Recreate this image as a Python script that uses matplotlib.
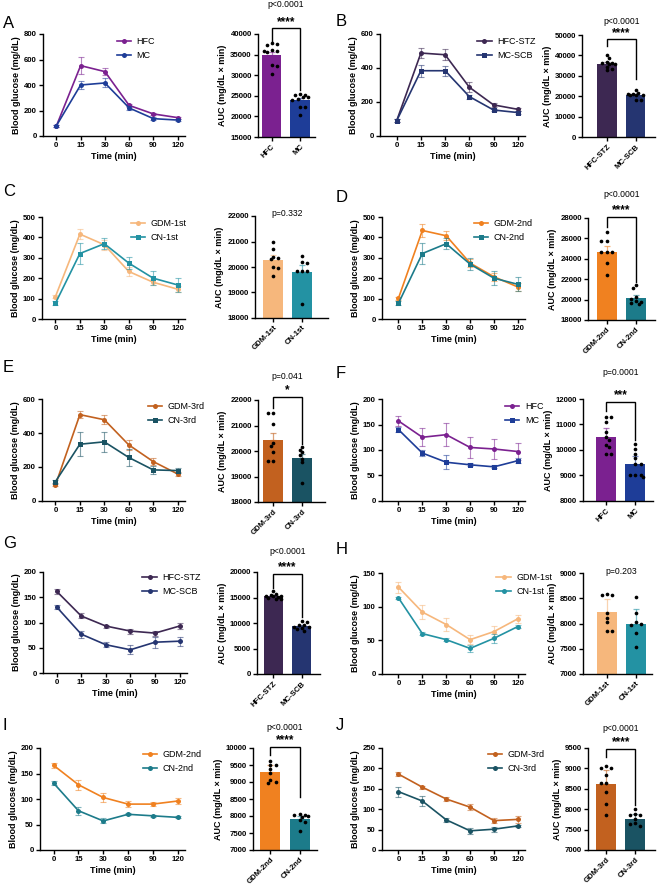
import numpy as np
import matplotlib
matplotlib.use('Agg')
from matplotlib import pyplot as plt
from matplotlib.colors import to_rgba

plt.rcParams['font.family'] = ['Liberation Sans', 'DejaVu Sans']
plt.rcParams['axes.labelweight'] = 'bold'

W, H = 657, 885
times = ['0', '15', '30', '60', '90', '120']

colors = {'HFC': '#7b2190', 'MC': '#1e3d98',
          'HFC-STZ': '#3d2852', 'MC-SCB': '#253571',
          'GDM-1st': '#f6b77c', 'CN-1st': '#2392a3',
          'GDM-2nd': '#f08120', 'CN-2nd': '#1c7b8a',
          'GDM-3rd': '#c2611f', 'CN-3rd': '#1a5363'}

# ---- A ----
A_groups = ['HFC', 'MC']
A_curve = [[78, 552, 505, 240, 173, 144], [80, 400, 416, 220, 136, 125]]
A_curve_err = [[8, 65, 30, 12, 10, 8], [6, 35, 35, 15, 10, 8]]
A_auc = [34900, 23900]
A_auc_err = [700, 550]
A_pts = [[37700, 37500, 37300, 36000, 35800, 35600, 35900, 32500, 32300, 30200],
         [25400, 25300, 25200, 24700, 24600, 24300, 24000, 22400, 22200, 20400]]
# ---- B ----
B_groups = ['HFC-STZ', 'MC-SCB']
B_curve = [[90, 488, 478, 287, 183, 157], [90, 384, 384, 232, 153, 138]]
B_curve_err = [[8, 32, 32, 30, 10, 10], [8, 35, 30, 12, 8, 8]]
B_auc = [36000, 20500]
B_auc_err = [800, 500]
B_pts = [[40000, 38500, 36800, 36500, 36300, 36000, 35800, 34500, 33500, 32600],
         [23200, 21800, 21200, 21000, 20800, 20700, 20500, 18200, 17900]]
# ---- C ----
C_groups = ['GDM-1st', 'CN-1st']
C_curve = [[110, 416, 364, 233, 180, 146], [77, 321, 369, 274, 200, 167]]
C_curve_err = [[8, 25, 25, 20, 15, 15], [10, 50, 28, 30, 35, 35]]
C_auc = [20290, 19810]
C_auc_err = [190, 260]
C_pts = [[21000, 20700, 20400, 20350, 20300, 20000, 19950, 19650],
         [20450, 20200, 20150, 19850, 19850, 19850, 18550]]
# ---- D ----
D_groups = ['GDM-2nd', 'CN-2nd']
D_curve = [[102, 434, 408, 274, 207, 157], [77, 321, 369, 269, 200, 170]]
D_curve_err = [[8, 30, 22, 20, 20, 20], [10, 50, 28, 30, 35, 35]]
D_auc = [24700, 20200]
D_auc_err = [550, 250]
D_pts = [[26600, 25700, 25700, 24700, 24700, 24700, 23600, 22400],
         [21400, 21100, 20300, 20100, 19900, 19800, 19700, 19600]]
# ---- E ----
E_groups = ['GDM-3rd', 'CN-3rd']
E_curve = [[94, 508, 478, 330, 232, 159], [114, 334, 348, 256, 183, 179]]
E_curve_err = [[8, 20, 25, 30, 20, 10], [10, 70, 60, 50, 25, 15]]
E_auc = [20430, 19720]
E_auc_err = [280, 150]
E_pts = [[21500, 21500, 21050, 20300, 20200, 19950, 19600, 19600],
         [20150, 20050, 19950, 19850, 19700, 19550, 18750]]
# ---- F ----
F_groups = ['HFC', 'MC']
F_curve = [[157, 125, 130, 105, 102, 97], [140, 94, 76, 71, 67, 79]]
F_curve_err = [[10, 18, 22, 20, 20, 16], [5, 6, 14, 3, 3, 5]]
F_auc = [10500, 9450]
F_auc_err = [380, 320]
F_pts = [[11300, 11300, 11100, 10700, 10500, 10400, 10200, 10100, 9850, 9850],
         [10250, 10050, 9850, 9700, 9450, 9450, 9000, 9000, 9000, 8950]]
# ---- G ----
G_groups = ['HFC-STZ', 'MC-SCB']
G_curve = [[162, 113, 93, 83, 79, 93], [131, 77, 56, 46, 61, 63]]
G_curve_err = [[5, 5, 3, 5, 5, 6], [4, 7, 5, 9, 11, 9]]
G_auc = [15250, 9350]
G_auc_err = [300, 300]
G_pts = [[16200, 15600, 15500, 15300, 15300, 15200, 15100, 14900, 14800, 14700],
         [10300, 10100, 9700, 9600, 9300, 9200, 9000, 8800, 8500]]
# ---- H ----
H_groups = ['GDM-1st', 'CN-1st']
H_curve = [[129, 92, 73.5, 51, 63, 82], [113, 60, 51, 38, 53, 70.5]]
H_curve_err = [[8, 11, 9, 7, 8, 6], [2, 2, 2, 5, 7, 2]]
H_auc = [8220, 7995]
H_auc_err = [260, 290]
H_pts = [[8580, 8560, 8560, 8200, 8100, 8020, 7850, 7850],
         [8520, 8200, 8020, 8000, 7980, 7820, 7540]]
# ---- I ----
I_groups = ['GDM-2nd', 'CN-2nd']
I_curve = [[166, 128, 103, 90, 90, 96], [131, 77, 57, 70, 67, 64]]
I_curve_err = [[5, 10, 8, 6, 4, 5], [4, 8, 5, 2, 2, 2]]
I_auc = [9280, 7905]
I_auc_err = [230, 90]
I_pts = [[9630, 9500, 9500, 9380, 9260, 9050, 9000, 8960],
         [8050, 8030, 8020, 8000, 7960, 7880, 7820, 7550]]
# ---- J ----
J_groups = ['GDM-3rd', 'CN-3rd']
J_curve = [[186, 154, 125, 105, 72, 75], [143, 120, 74, 47, 51, 59]]
J_curve_err = [[5, 4, 6, 8, 6, 8], [12, 12, 5, 8, 6, 3]]
J_auc = [8620, 7760]
J_auc_err = [340, 130]
J_pts = [[9050, 9000, 9000, 8850, 8650, 8650, 8420, 8130, 7860],
         [8010, 7880, 7870, 7860, 7750, 7650, 7640, 7600]]

p_text = {'A': 'p<0.0001', 'B': 'p<0.0001', 'C': 'p=0.332', 'D': 'p<0.0001',
          'E': 'p=0.041', 'F': 'p=0.0001', 'G': 'p<0.0001', 'H': 'p=0.203',
          'I': 'p<0.0001', 'J': 'p<0.0001'}
stars = {'A': '****', 'B': '****', 'D': '****', 'E': '*', 'F': '***',
         'G': '****', 'I': '****', 'J': '****'}

fig = plt.figure(figsize=(W / 100, H / 100), dpi=100)


def box(x0, x1, yt, yb):
    return [x0 / W, 1 - yb / H, (x1 - x0) / W, (yb - yt) / H]


def style(ax):
    for s in ['top', 'right']:
        ax.spines[s].set_visible(False)
    for s in ['left', 'bottom']:
        ax.spines[s].set_linewidth(1.0)
    ax.tick_params(width=1.0, length=3, labelsize=5.6, pad=1.5)
    for lab in ax.get_xticklabels() + ax.get_yticklabels():
        lab.set_fontweight('bold')


def swarm(vals, lo, hi, hpx, spx, d=3.6):
    # spread close values sideways, kept inside the bar
    hw = 0.27 * spx
    cands = np.linspace(-hw, hw, 7)
    cands = cands[np.argsort(np.abs(cands), kind='stable')]
    placed = []
    offs = []
    for v in vals:
        y = (v - lo) / (hi - lo) * hpx
        best, bestd = 0.0, -1
        for c in cands:
            md = min([np.hypot(c - px, y - py) for px, py in placed] + [99])
            if md >= d:
                best = c
                break
            if md > bestd:
                best, bestd = c, md
        placed.append((best, y))
        offs.append(best / spx)
    return np.array(offs)


def curve_panel(pos, groups, means, errs, marks, xleft, ymax, ystep, leg):
    ax = fig.add_axes(box(*pos))
    x = np.arange(len(times))
    for g, m, e, mk in zip(groups, means, errs, marks):
        c = colors[g]
        ax.errorbar(x, m, yerr=e, fmt='none', ecolor=to_rgba(c, 0.55),
                    elinewidth=0.8, capsize=2, capthick=0.8)
        ax.plot(x, m, '-', marker=mk, color=c, lw=1.2, ms=3.6, mew=0, label=g)
    ax.set_xlim(xleft, 5.3)
    ax.set_ylim(0, ymax)
    ax.set_xticks(x)
    ax.set_xticklabels(times)
    ax.set_yticks(np.arange(0, ymax + 1, ystep))
    ax.set_xlabel('Time (min)', fontsize=6.5, labelpad=2)
    ax.set_ylabel('Blood glucose (mg/dL)', fontsize=6.5, labelpad=2)
    ax.legend(loc='upper left', bbox_to_anchor=leg, frameon=False, fontsize=6.5,
              handlelength=1.6, handletextpad=0.6, borderpad=0, borderaxespad=0,
              labelspacing=0.55)
    style(ax)
    return ax


def auc_panel(key, pos, groups, bars, errs, pts, xlim, ylo, yhi, ystep, bk):
    ax = fig.add_axes(box(*pos))
    x = np.arange(2)
    hpx = pos[3] - pos[2]
    spx = (pos[1] - pos[0]) / (xlim[1] - xlim[0])
    for i, g in enumerate(groups):
        c = colors[g]
        ax.bar(i, bars[i] - ylo, bottom=ylo, width=0.68, color=c, zorder=1)
        ax.errorbar(i, bars[i], yerr=[[0], [errs[i]]], fmt='none',
                    ecolor=to_rgba(c, 0.6), elinewidth=0.9, capsize=2.5, capthick=0.9, zorder=2)
        off = swarm(pts[i], ylo, yhi, hpx, spx)
        ax.scatter(i + off, pts[i], s=7, color='black', lw=0, zorder=3, clip_on=False)
    ax.set_xlim(*xlim)
    ax.set_ylim(ylo, yhi)
    ax.set_yticks(np.arange(ylo, yhi + 1, ystep))
    ax.set_xticks(x)
    ax.set_xticklabels(groups, rotation=45, ha='right', rotation_mode='anchor')
    ax.set_ylabel('AUC (mg/dL × min)', fontsize=6.5, labelpad=2)
    style(ax)
    top, legl, legr, ys, yp = bk
    if key in stars:
        ax.plot([0, 0, 1, 1], [legl, top, top, legr], color='black', lw=1,
                clip_on=False, solid_joinstyle='miter')
        ax.text(0.5, ys, stars[key], ha='center', va='center', fontsize=8.5,
                fontweight='bold', clip_on=False)
    ax.text(0.5, yp, p_text[key], ha='center', va='center', fontsize=6.2, clip_on=False)
    return ax


# curve panels: (x0, x1, ytop, ybottom) in pixels
curve_panel((43, 185, 34, 136), A_groups, A_curve, A_curve_err, ['o', 'o'], -0.55, 800, 200, (0.52, 0.97))
curve_panel((380, 525, 34, 136), B_groups, B_curve, B_curve_err, ['o', 's'], -0.69, 600, 200, (0.67, 0.97))
curve_panel((42, 185, 217, 319), C_groups, C_curve, C_curve_err, ['o', 's'], -0.55, 500, 100, (0.62, 0.98))
curve_panel((382, 525, 217, 319), D_groups, D_curve, D_curve_err, ['o', 's'], -0.69, 500, 100, (0.64, 0.98))
curve_panel((42, 185, 399, 501), E_groups, E_curve, E_curve_err, ['o', 's'], -0.55, 600, 200, (0.74, 0.97))
curve_panel((382, 525, 399, 501), F_groups, F_curve, F_curve_err, ['o', 's'], -0.69, 200, 50, (0.86, 0.97))
curve_panel((43, 187, 572, 673), G_groups, G_curve, G_curve_err, ['o', 'o'], -0.55, 200, 50, (0.69, 0.99))
curve_panel((382, 525, 573, 674), H_groups, H_curve, H_curve_err, ['o', 'o'], -0.69, 150, 50, (0.80, 1.0))
curve_panel((40, 185, 748, 850), I_groups, I_curve, I_curve_err, ['o', 'o'], -0.55, 200, 50, (0.71, 0.98))
curve_panel((382, 525, 748, 850), J_groups, J_curve, J_curve_err, ['o', 'o'], -0.69, 250, 50, (0.74, 0.98))

# AUC panels
auc_panel('A', (258, 315, 34, 137), A_groups, A_auc, A_auc_err, A_pts, (-0.48, 1.52), 15000, 40000, 5000,
          (41400, 38200, 26400, 42800, 47200))
auc_panel('B', (582, 655, 35, 137), B_groups, B_auc, B_auc_err, B_pts, (-0.86, 1.67), 0, 50000, 10000,
          (48000, 44800, 28200, 51000, 56500))
auc_panel('C', (255, 328, 216, 318), C_groups, C_auc, C_auc_err, C_pts, (-0.63, 1.9), 18000, 22000, 1000,
          (0, 0, 0, 0, 22080))
auc_panel('D', (588, 655, 218, 320), D_groups, D_auc, D_auc_err, D_pts, (-0.63, 1.65), 18000, 28000, 2000,
          (28070, 27080, 21770, 28800, 30300))
auc_panel('E', (258, 325, 400, 502), E_groups, E_auc, E_auc_err, E_pts, (-0.52, 1.78), 18000, 22000, 1000,
          (22100, 21670, 20270, 22380, 22920))
auc_panel('F', (583, 653, 399, 501), F_groups, F_auc, F_auc_err, F_pts, (-0.8, 1.61), 8000, 12000, 1000,
          (11880, 11515, 10400, 12140, 13050))
auc_panel('G', (257, 320, 572, 674), G_groups, G_auc, G_auc_err, G_pts, (-0.57, 1.64), 0, 20000, 5000,
          (19600, 16860, 11110, 20900, 24050))
auc_panel('H', (583, 652, 573, 674), H_groups, H_auc, H_auc_err, H_pts, (-0.83, 1.55), 7000, 9000, 500,
          (0, 0, 0, 0, 9020))
auc_panel('I', (253, 317, 748, 850), I_groups, I_auc, I_auc_err, I_pts, (-0.58, 1.58), 7000, 10000, 500,
          (10020, 9800, 8570, 10245, 10610))
auc_panel('J', (588, 655, 748, 850), J_groups, J_auc, J_auc_err, J_pts, (-0.63, 1.68), 7000, 9500, 500,
          (9475, 9270, 8107, 9650, 9975))

letters = [('A', 3, 23), ('B', 336, 22), ('C', 3, 191), ('D', 336, 197), ('E', 3, 368),
           ('F', 336, 373), ('G', 3, 543), ('H', 336, 550), ('I', 3, 725), ('J', 336, 725)]
for t, lx, ly in letters:
    fig.text(lx / W, 1 - ly / H, t, fontsize=12, ha='left', va='center')

fig.savefig('out.png', dpi=100)
